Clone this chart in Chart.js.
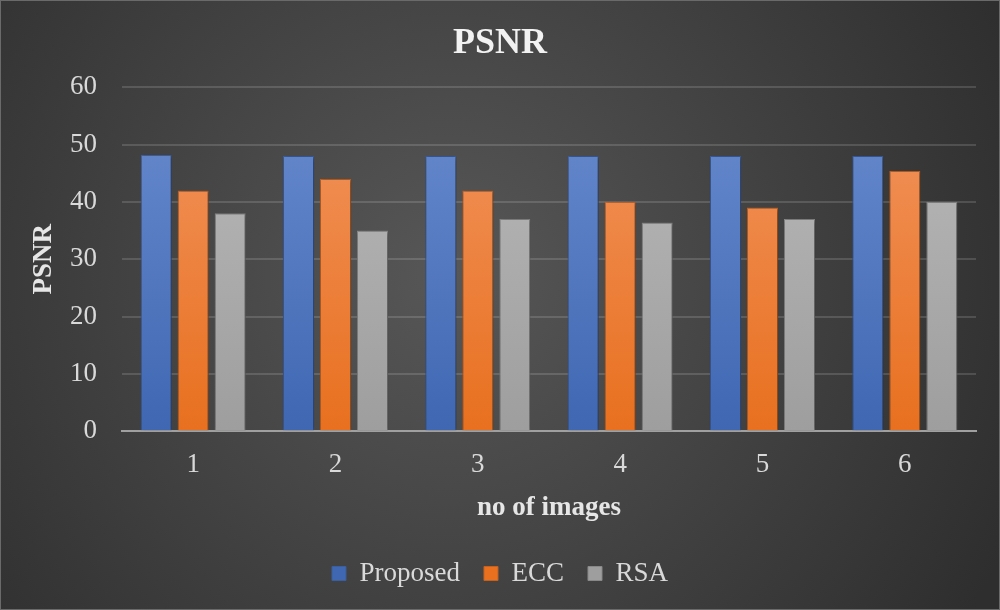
<!DOCTYPE html>
<html>
<head>
<meta charset="utf-8">
<script src="https://cdn.jsdelivr.net/npm/chart.js@4"></script>
<style>
  html, body { margin: 0; padding: 0; background: #3a3a3a; }
  #wrap { width: 1000px; height: 610px; }
</style>
</head>
<body>
<div id="wrap"><canvas id="psnrChart" width="1000" height="610"></canvas></div>
<script>
var categories = ["1", "2", "3", "4", "5", "6"];
var proposed = [48.2, 48, 48, 48, 48, 48];
var ecc = [42, 44, 42, 40, 39, 45.4];
var rsa = [38, 35, 37, 36.4, 37, 40];

Chart.defaults.font.family = '"Liberation Serif", "Times New Roman", serif';
Chart.defaults.color = '#d9d9d9';

function barGradient(top, bottom) {
    return function (context) {
        var chart = context.chart;
        var area = chart.chartArea;
        if (!area) return bottom;
        var g = chart.ctx.createLinearGradient(0, area.top, 0, area.bottom);
        g.addColorStop(0, top);
        g.addColorStop(1, bottom);
        return g;
    };
}

// dark radial background like the office chart style
var backgroundPlugin = {
    id: 'bg',
    beforeDraw: function (chart) {
        var ctx = chart.ctx;
        var w = chart.width, h = chart.height;
        ctx.save();
        var g = ctx.createRadialGradient(w * 0.45, h * 0.45, 0, w * 0.45, h * 0.45, w * 0.62);
        g.addColorStop(0, '#575757');
        g.addColorStop(1, '#2e2e2e');
        ctx.fillStyle = g;
        ctx.fillRect(0, 0, w, h);
        ctx.strokeStyle = '#6a6a6a';
        ctx.lineWidth = 1;
        ctx.strokeRect(0.5, 0.5, w - 1, h - 1);
        ctx.restore();
    },
    beforeDatasetsDraw: function (chart) {
        var ctx = chart.ctx;
        ctx.save();
        ctx.shadowColor = 'rgba(0,0,0,0.45)';
        ctx.shadowBlur = 4;
        ctx.shadowOffsetX = 1;
        ctx.shadowOffsetY = 1;
    },
    afterDatasetsDraw: function (chart) {
        chart.ctx.restore();
    }
};

var ctx = document.getElementById("psnrChart").getContext('2d');
var psnrChart = new Chart(ctx, {
    type: 'bar',
    data: {
        labels: categories,
        datasets: [{
            label: "Proposed",
            data: proposed,
            backgroundColor: barGradient('#6a8ccf', '#3f67b2'),
            borderColor: '#3a5e9e',
            borderWidth: 1
        }, {
            label: "ECC",
            data: ecc,
            backgroundColor: barGradient('#f29560', '#e8701f'),
            borderColor: '#c4611f',
            borderWidth: 1
        }, {
            label: "RSA",
            data: rsa,
            backgroundColor: barGradient('#bababa', '#9e9e9e'),
            borderColor: '#888888',
            borderWidth: 1
        }]
    },
    options: {
        responsive: false,
        animation: false,
        layout: {
            padding: { left: 24, right: 24, top: 4, bottom: 13 }
        },
        datasets: {
            bar: {
                categoryPercentage: 0.78,
                barPercentage: 0.84
            }
        },
        scales: {
            x: {
                grid: { display: false },
                border: { display: true, color: '#a0a0a0', width: 2 },
                ticks: {
                    color: '#d9d9d9',
                    font: { size: 27 },
                    padding: 10
                },
                title: {
                    display: true,
                    text: 'no of images',
                    color: '#e6e6e6',
                    font: { size: 27, weight: 'bold' },
                    padding: { top: 0, bottom: 12 }
                }
            },
            y: {
                min: 0,
                max: 60,
                afterFit: function (scale) { scale.width = 98; },
                ticks: {
                    stepSize: 10,
                    color: '#d9d9d9',
                    font: { size: 27 },
                    padding: 25
                },
                grid: {
                    color: 'rgba(255,255,255,0.14)',
                    lineWidth: 2,
                    drawTicks: false
                },
                border: { display: false },
                title: {
                    display: true,
                    text: 'PSNR',
                    color: '#e6e6e6',
                    font: { size: 27, weight: 'bold' },
                    padding: { top: 4, bottom: 0 }
                }
            }
        },
        plugins: {
            title: {
                display: true,
                text: 'PSNR',
                color: '#f2f2f2',
                font: { size: 36, weight: 'bold' },
                padding: { top: 18, bottom: 22 }
            },
            legend: {
                position: 'bottom',
                labels: {
                    color: '#d9d9d9',
                    font: { size: 27 },
                    boxWidth: 14,
                    boxHeight: 14,
                    padding: 24
                }
            },
            tooltip: { enabled: false }
        }
    },
    plugins: [backgroundPlugin]
});
</script>
</body>
</html>
